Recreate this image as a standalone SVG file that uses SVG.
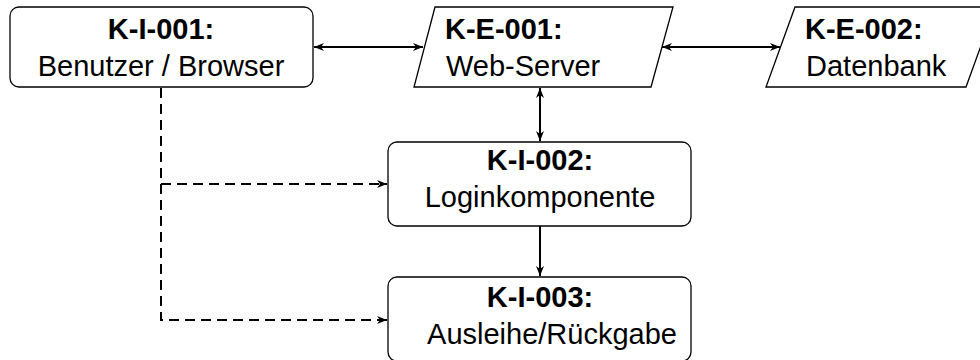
<svg xmlns="http://www.w3.org/2000/svg" width="980" height="360" viewBox="0 0 980 360">
  <style>
    .shape { fill: #ffffff; stroke: #000000; stroke-width: 1.3; }
    .title { font-family: "Liberation Sans", Arial, Helvetica, sans-serif; font-size: 29px; font-weight: bold; fill: #000000; }
    .label { font-family: "Liberation Sans", Arial, Helvetica, sans-serif; font-size: 29px; fill: #000000; }
    .link { fill: none; stroke: #000000; stroke-width: 2; }
    .dashed { stroke-dasharray: 10 6; }
  </style>
  <defs>
    <marker id="arrow" viewBox="0 0 10 10" refX="10" refY="5" markerWidth="10" markerHeight="10" markerUnits="userSpaceOnUse" orient="auto-start-reverse">
      <path d="M0,1 L10,5 L0,9 L3,5 z" fill="#000000"/>
    </marker>
  </defs>

  <rect width="980" height="360" fill="#ffffff"/>

  <!-- connectors -->
  <g id="connectors">
    <line class="link" x1="314" y1="47" x2="423" y2="47" marker-start="url(#arrow)" marker-end="url(#arrow)"/>
    <line class="link" x1="662" y1="47" x2="780" y2="47" marker-start="url(#arrow)" marker-end="url(#arrow)"/>
    <line class="link" x1="540" y1="88" x2="540" y2="141" marker-start="url(#arrow)" marker-end="url(#arrow)"/>
    <line class="link" x1="540" y1="226" x2="540" y2="276" marker-end="url(#arrow)"/>
    <polyline class="link dashed" points="161,88 161,320 387,320" marker-end="url(#arrow)"/>
    <line class="link dashed" x1="161" y1="184" x2="387" y2="184" marker-end="url(#arrow)"/>
  </g>

  <!-- K-I-001 -->
  <g id="k-i-001">
    <rect class="shape" x="10" y="7" width="303" height="80" rx="9"/>
    <text class="title" x="161" y="39" text-anchor="middle">K-I-001:</text>
    <text class="label" x="161" y="76" text-anchor="middle">Benutzer / Browser</text>
  </g>

  <!-- K-E-001 -->
  <g id="k-e-001">
    <polygon class="shape" points="435,7 673,7 651,87 414,87"/>
    <text class="title" x="445" y="39">K-E-001:</text>
    <text class="label" x="446" y="76">Web-Server</text>
  </g>

  <!-- K-E-002 -->
  <g id="k-e-002">
    <polygon class="shape" points="795,7 995,7 966,87 766,87"/>
    <text class="title" x="805" y="39">K-E-002:</text>
    <text class="label" x="806" y="76">Datenbank</text>
  </g>

  <!-- K-I-002 -->
  <g id="k-i-002">
    <rect class="shape" x="388" y="142" width="303" height="84" rx="9"/>
    <text class="title" x="540" y="170" text-anchor="middle">K-I-002:</text>
    <text class="label" x="540" y="207" text-anchor="middle">Loginkomponente</text>
  </g>

  <!-- K-I-003 -->
  <g id="k-i-003">
    <rect class="shape" x="388" y="277" width="303" height="84" rx="9"/>
    <text class="title" x="540" y="307" text-anchor="middle">K-I-003:</text>
    <text class="label" x="552" y="344" text-anchor="middle">Ausleihe/Rückgabe</text>
  </g>
</svg>
